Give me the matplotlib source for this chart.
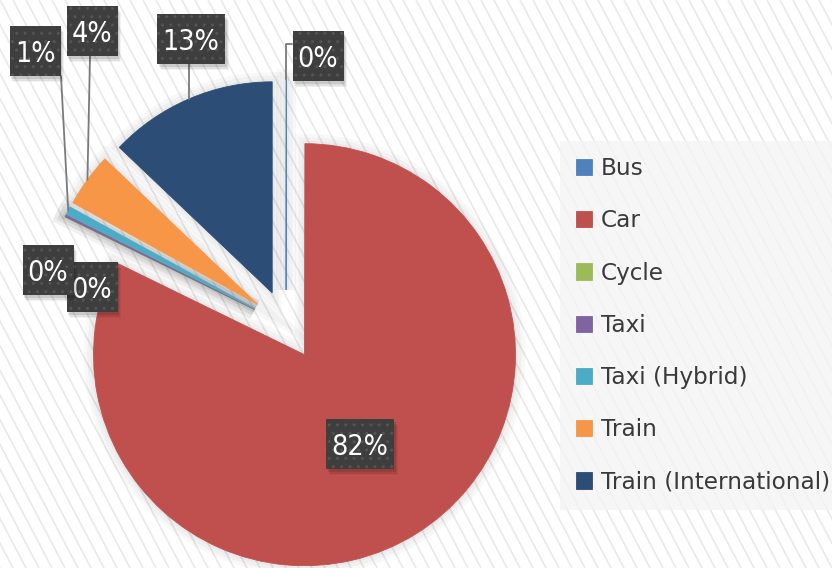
import matplotlib
matplotlib.use('Agg')
import matplotlib.pyplot as plt
from matplotlib.patches import Wedge, Rectangle
from matplotlib.collections import LineCollection
import numpy as np

# modes of travel and their share (percent)
modes = ["Bus", "Car", "Cycle", "Taxi", "Taxi (Hybrid)", "Train", "Train (International)"]
shares = [0.03, 82.2, 0.02, 0.15, 0.6, 4.1, 12.9]
colors = ["#4f81bd", "#c0504d", "#9bbb59", "#8064a2", "#4bacc6", "#f79646", "#2c4d75"]

W, H = 832, 568

fig = plt.figure(figsize=(W / 100, H / 100), dpi=100)
fig.patch.set_facecolor("white")
ax = fig.add_axes([0, 0, 1, 1])

# diagonal stripes in the background
xs = np.arange(-H / 1.9, W + 20, 13)
segs = [[(x0, H), (x0 + H / 1.9, 0)] for x0 in xs]
ax.add_collection(LineCollection(segs, colors="#e9e9e9", linewidths=1.2, zorder=0))

# explode is in data units here (axes are in pixels)
wedges, _ = ax.pie(shares, colors=colors, startangle=90, counterclock=False,
                   radius=211, center=(286, H - 325), explode=[35] * len(shares),
                   wedgeprops=dict(linewidth=0.6, zorder=3))
for w, c in zip(wedges, colors):
    w.set_edgecolor(c)
    # soft glow round each slice
    for lw in (14, 9, 4):
        ax.add_patch(Wedge(w.center, w.r, w.theta1, w.theta2, facecolor="none",
                           edgecolor="black", alpha=0.028, linewidth=lw, zorder=2))

ax.set_xlim(0, W)
ax.set_ylim(0, H)
ax.set_aspect("auto")
ax.axis("off")

# label box centres (pixels, top origin) and where the leader leaves the box
label_pos = [(318, 56), (360, 444), (92, 287), (48, 270), (35, 51), (92, 31), (191, 39)]
anchors = [(292, 44), None, None, None, (61, 76), (90, 56), (189, 63)]

total = sum(shares)
for i, (w, v) in enumerate(zip(wedges, shares)):
    txt = "%d%%" % round(v / total * 100)
    lx, ly = label_pos[i]
    z = 5 + i * 0.1
    if anchors[i] is not None:
        mid = np.deg2rad((w.theta1 + w.theta2) / 2)
        edge = (w.center[0] + w.r * np.cos(mid), w.center[1] + w.r * np.sin(mid))
        ax_, ay_ = anchors[i]
        cs = "angle,angleA=0,angleB=90,rad=0" if i == 0 else "arc3"
        ax.annotate("", xy=edge, xytext=(ax_, H - ay_),
                    arrowprops=dict(arrowstyle="-", color="#7a7a7a", lw=1.3,
                                    connectionstyle=cs, shrinkA=0, shrinkB=0),
                    zorder=4)
    bw, bh = 17 * len(txt) + 17, 50
    x0, y0 = lx - bw / 2, H - ly - bh / 2
    # soft drop shadow
    for d, a in ((6, 0.05), (4.5, 0.07), (3, 0.1)):
        ax.add_patch(Rectangle((x0 + d * 0.6, y0 - d), bw, bh, facecolor="black",
                               linewidth=0, alpha=a, zorder=z))
    ax.add_patch(Rectangle((x0, y0), bw, bh, facecolor="#3e3e3e", edgecolor="#545454",
                           hatch="..", linewidth=0, zorder=z + 0.02))
    ax.text(lx, H - ly, txt, ha="center", va="center_baseline", color="white",
            fontsize=20.5, fontstretch="condensed", zorder=z + 0.04)

leg = ax.legend(wedges, modes, loc="upper left", bbox_to_anchor=(560 / W, 1 - 141 / H),
                bbox_transform=fig.transFigure, frameon=True, fancybox=False,
                facecolor="#f4f4f4", edgecolor="none", framealpha=0.8, fontsize=16.7,
                handlelength=0.7, handleheight=0.7, handletextpad=0.35,
                labelspacing=1.26, borderpad=0.7, borderaxespad=0)
for t in leg.get_texts():
    t.set_color("#3a3a3a")

fig.savefig("out.png", dpi=100)
